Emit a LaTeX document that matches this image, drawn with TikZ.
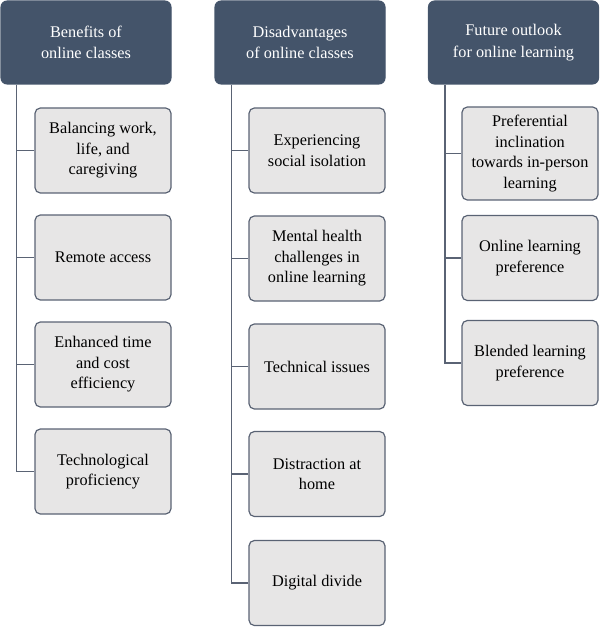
\documentclass[tikz,border=0pt]{standalone}
\usepackage{fontspec}
\setmainfont{Liberation Serif}
\definecolor{hdrfill}{HTML}{44546A}
\definecolor{boxfill}{HTML}{E7E6E6}
\definecolor{boxdraw}{HTML}{5A6374}
\definecolor{linecol}{HTML}{5A6374}
\tikzset{
  hdr/.style={draw=hdrfill, fill=hdrfill, rounded corners=4.5pt, line width=0.8pt,
    minimum width=127.5pt, minimum height=62.25pt, text=white, align=center,
    font=\fontsize{12.2pt}{16pt}\selectfont, inner sep=0pt},
  itembox/.style={draw=boxdraw, fill=boxfill, rounded corners=4pt, line width=0.9pt,
    minimum width=102pt, minimum height=63.75pt, text=black, align=center,
    font=\fontsize{12.2pt}{15.4pt}\selectfont, inner sep=0pt},
  conn/.style={draw=linecol, line width=0.9pt},
}
\begin{document}
\begin{tikzpicture}[x=0.75pt,y=-0.75pt]
\useasboundingbox (0,0) rectangle (600,627);
% headers
\node[hdr] (h1) at (86,42.5) {Benefits of\\online classes};
\node[hdr] (h2) at (300,42.5) {Disadvantages\\of online classes};
\node[hdr] (h3) at (513.5,42.5) {Future outlook\\for online learning};
% column 1
\node[itembox] (a1) at (103,150.5) {Balancing work,\\life, and\\caregiving};
\node[itembox] (a2) at (103,257.5) {Remote access};
\node[itembox] (a3) at (103,364.5) {Enhanced time\\and cost\\efficiency};
\node[itembox] (a4) at (103,471.5) {Technological\\proficiency};
% column 2
\node[itembox] (b1) at (317,150.5) {Experiencing\\social isolation};
\node[itembox] (b2) at (317,258.5) {Mental health\\challenges in\\online learning};
\node[itembox] (b3) at (317,366.5) {Technical issues};
\node[itembox] (b4) at (317,474) {Distraction at\\home};
\node[itembox] (b5) at (317,583) {Digital divide};
% column 3
\node[itembox, minimum height=69.75pt] (c1) at (530,153.5) {Preferential\\inclination\\towards in-person\\learning};
\node[itembox] (c2) at (530,258) {Online learning\\preference};
\node[itembox] (c3) at (530,363) {Blended learning\\preference};
% connectors
\coordinate (v1) at ([xshift=12pt]h1.south west);
\coordinate (v2) at ([xshift=12.75pt]h2.south west);
\coordinate (v3) at ([xshift=12.75pt]h3.south west);
\draw[conn] (v1) |- (a4.west);
\foreach \n in {a1,a2,a3} \draw[conn] (\n.west) -- (\n.west -| v1);
\draw[conn] (v2) |- (b5.west);
\foreach \n in {b1,b2,b3,b4} \draw[conn] (\n.west) -- (\n.west -| v2);
\draw[conn] (v3) |- (c3.west);
\foreach \n in {c1,c2} \draw[conn] (\n.west) -- (\n.west -| v3);
\end{tikzpicture}
\end{document}
